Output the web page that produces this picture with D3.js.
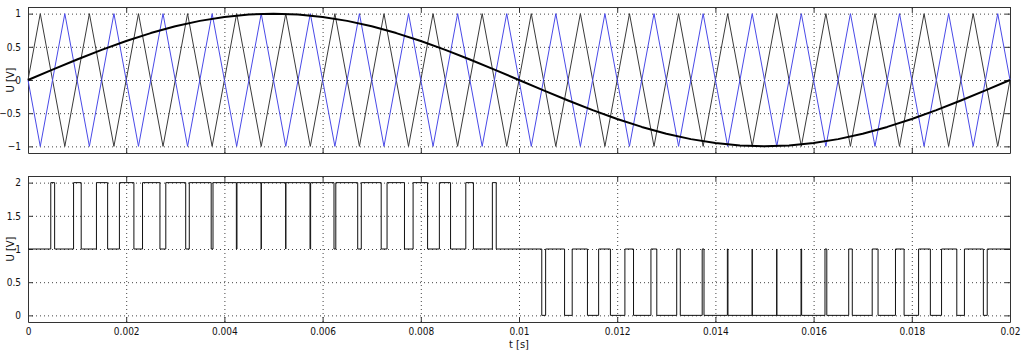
<!DOCTYPE html>
<html>
<head>
<meta charset="utf-8">
<script src="https://cdn.jsdelivr.net/npm/d3@7/dist/d3.min.js"></script>
<style>
  body { margin: 0; background: #fff; }
  svg { display: block; }
  .tick text { font-family: "Liberation Sans Narrow", "Arial Narrow", "DejaVu Sans Condensed", sans-serif; font-size: 10px; fill: #111; }
  .lbl { font-family: "Liberation Sans Narrow", "Arial Narrow", "DejaVu Sans Condensed", sans-serif; font-size: 11px; fill: #111; }
</style>
</head>
<body>
<script>
// tick values
var xTicks = [0, 0.002, 0.004, 0.006, 0.008, 0.01, 0.012, 0.014, 0.016, 0.018, 0.02];
var xTickLabels = ["0", "0.002", "0.004", "0.006", "0.008", "0.01", "0.012", "0.014", "0.016", "0.018", "0.02"];
var yTicksTop = [-1, -0.5, 0, 0.5, 1];
var yTicksBottom = [0, 0.5, 1, 1.5, 2];

// reference sine (read at every 0.5 ms)
var sineT = [0, 0.0005, 0.001, 0.0015, 0.002, 0.0025, 0.003, 0.0035, 0.004, 0.0045,
  0.005, 0.0055, 0.006, 0.0065, 0.007, 0.0075, 0.008, 0.0085, 0.009, 0.0095,
  0.01, 0.0105, 0.011, 0.0115, 0.012, 0.0125, 0.013, 0.0135, 0.014, 0.0145,
  0.015, 0.0155, 0.016, 0.0165, 0.017, 0.0175, 0.018, 0.0185, 0.019, 0.0195, 0.02];
var sineV = [0, 0.156, 0.309, 0.454, 0.588, 0.707, 0.809, 0.891, 0.951, 0.988,
  1, 0.988, 0.951, 0.891, 0.809, 0.707, 0.588, 0.454, 0.309, 0.156,
  0, -0.156, -0.309, -0.454, -0.588, -0.707, -0.809, -0.891, -0.951, -0.988,
  -1, -0.988, -0.951, -0.891, -0.809, -0.707, -0.588, -0.454, -0.309, -0.156, 0];

// triangle carriers: vertex times, black carrier, blue carrier
var carrierT = [0, 0.00025, 0.00075, 0.00125, 0.00175, 0.00225, 0.00275, 0.00325, 0.00375, 0.00425, 0.00475,
  0.00525, 0.00575, 0.00625, 0.00675, 0.00725, 0.00775, 0.00825, 0.00875, 0.00925, 0.00975,
  0.01025, 0.01075, 0.01125, 0.01175, 0.01225, 0.01275, 0.01325, 0.01375, 0.01425, 0.01475,
  0.01525, 0.01575, 0.01625, 0.01675, 0.01725, 0.01775, 0.01825, 0.01875, 0.01925, 0.01975, 0.02];
var carrierA = [0, 1, -1, 1, -1, 1, -1, 1, -1, 1, -1,
  1, -1, 1, -1, 1, -1, 1, -1, 1, -1,
  1, -1, 1, -1, 1, -1, 1, -1, 1, -1,
  1, -1, 1, -1, 1, -1, 1, -1, 1, -1, 0];
var carrierB = [0, -1, 1, -1, 1, -1, 1, -1, 1, -1, 1,
  -1, 1, -1, 1, -1, 1, -1, 1, -1, 1,
  -1, 1, -1, 1, -1, 1, -1, 1, -1, 1,
  -1, 1, -1, 1, -1, 1, -1, 1, -1, 1, 0];

// pwm output: switching instants and level after each switch
var pwmT = [0,
  0.0004637, 0.0005424, 0.0009281, 0.0010835, 0.0013939, 0.0016220, 0.0018618, 0.0021569,
  0.0023325, 0.0026872, 0.0028067, 0.0032120, 0.0032849, 0.0037310, 0.0037679, 0.0042437,
  0.0042561, 0.0047490, 0.0047510, 0.0052490, 0.0052510, 0.0057439, 0.0057563, 0.0062321,
  0.0062690, 0.0067151, 0.0067880, 0.0071933, 0.0073128, 0.0076675, 0.0078431, 0.0081382,
  0.0083780, 0.0086061, 0.0089165, 0.0090719, 0.0094576, 0.0095363,
  0.0104637, 0.0105424, 0.0109281, 0.0110835, 0.0113939, 0.0116220, 0.0118618, 0.0121569,
  0.0123325, 0.0126872, 0.0128067, 0.0132120, 0.0132849, 0.0137310, 0.0137679, 0.0142437,
  0.0142561, 0.0147490, 0.0147510, 0.0152490, 0.0152510, 0.0157439, 0.0157563, 0.0162321,
  0.0162690, 0.0167151, 0.0167880, 0.0171933, 0.0173128, 0.0176675, 0.0178431, 0.0181382,
  0.0183780, 0.0186061, 0.0189165, 0.0190719, 0.0194576, 0.0195363,
  0.02];
var pwmV = [1,
  2, 1, 2, 1, 2, 1, 2, 1, 2, 1, 2, 1, 2, 1, 2, 1, 2, 1, 2, 1, 2, 1, 2, 1,
  2, 1, 2, 1, 2, 1, 2, 1, 2, 1, 2, 1, 2, 1,
  0, 1, 0, 1, 0, 1, 0, 1, 0, 1, 0, 1, 0, 1, 0, 1, 0, 1, 0, 1, 0, 1, 0, 1,
  0, 1, 0, 1, 0, 1, 0, 1, 0, 1, 0, 1, 0, 1,
  1];

var W = 1024, H = 351;
var left = 28, right = 1010;

var svg = d3.select("body").append("svg")
  .attr("width", W)
  .attr("height", H);

var x = d3.scaleLinear().domain([0, 0.02]).range([left, right]);

function panel(top, bottom, ydom, yticks, showX) {
  var y = d3.scaleLinear().domain(ydom).range([bottom, top]);
  var g = svg.append("g");
  var w = right - left, h = bottom - top;

  // dotted grid
  g.append("g")
    .attr("transform", "translate(0," + bottom + ")")
    .call(d3.axisBottom(x).tickValues(xTicks).tickSize(-h).tickFormat(""))
    .call(s => s.select(".domain").remove())
    .selectAll("line").attr("stroke", "#444").attr("stroke-dasharray", "1,3");
  g.append("g")
    .attr("transform", "translate(" + left + ",0)")
    .call(d3.axisLeft(y).tickValues(yticks).tickSize(-w).tickFormat(""))
    .call(s => s.select(".domain").remove())
    .selectAll("line").attr("stroke", "#444").attr("stroke-dasharray", "1,3");

  // box with inward ticks
  g.append("g")
    .attr("transform", "translate(0," + bottom + ")")
    .call(d3.axisBottom(x).tickValues(xTicks).tickSizeInner(-5).tickSizeOuter(0).tickPadding(6)
      .tickFormat(showX ? (d, i) => xTickLabels[i] : ""));
  g.append("g")
    .attr("transform", "translate(0," + top + ")")
    .call(d3.axisTop(x).tickValues(xTicks).tickSizeInner(-5).tickSizeOuter(0).tickFormat(""));
  g.append("g")
    .attr("transform", "translate(" + left + ",0)")
    .call(d3.axisLeft(y).tickValues(yticks).tickSizeInner(-5).tickSizeOuter(0).tickPadding(7).tickFormat(d3.format("")));
  g.append("g")
    .attr("transform", "translate(" + right + ",0)")
    .call(d3.axisRight(y).tickValues(yticks).tickSizeInner(-5).tickSizeOuter(0).tickFormat(""));
  g.selectAll(".domain").attr("stroke", "#333");
  g.selectAll(".tick line").filter(function () { return !this.getAttribute("stroke-dasharray"); })
    .attr("stroke", "#333");

  g.append("text").attr("class", "lbl")
    .attr("transform", "translate(14," + ((top + bottom) / 2) + ") rotate(-90)")
    .attr("text-anchor", "middle")
    .text("U [V]");
  return y;
}

var yTop = panel(7, 153, [-1.1, 1.1], yTicksTop, false);
var yBot = panel(176, 322, [-0.1, 2.1], yTicksBottom, true);

svg.append("text").attr("class", "lbl")
  .attr("x", x(0.01)).attr("y", 348)
  .attr("text-anchor", "middle")
  .text("t [s]");

var lineTop = d3.line().x(d => x(d[0])).y(d => yTop(d[1]));

svg.append("path")
  .datum(carrierT.map((t, i) => [t, carrierA[i]]))
  .attr("d", lineTop)
  .attr("fill", "none").attr("stroke", "#3a3a3a").attr("stroke-width", 1);

svg.append("path")
  .datum(carrierT.map((t, i) => [t, carrierB[i]]))
  .attr("d", lineTop)
  .attr("fill", "none").attr("stroke", "#4a4ae8").attr("stroke-width", 1);

svg.append("path")
  .datum(sineT.map((t, i) => [t, sineV[i]]))
  .attr("d", lineTop)
  .attr("fill", "none").attr("stroke", "#000").attr("stroke-width", 2)
  .attr("stroke-linejoin", "round");

var lineBot = d3.line().x(d => x(d[0])).y(d => yBot(d[1])).curve(d3.curveStepAfter);

svg.append("path")
  .datum(pwmT.map((t, i) => [t, pwmV[i]]))
  .attr("d", lineBot)
  .attr("fill", "none").attr("stroke", "#111").attr("stroke-width", 1);
</script>
</body>
</html>
